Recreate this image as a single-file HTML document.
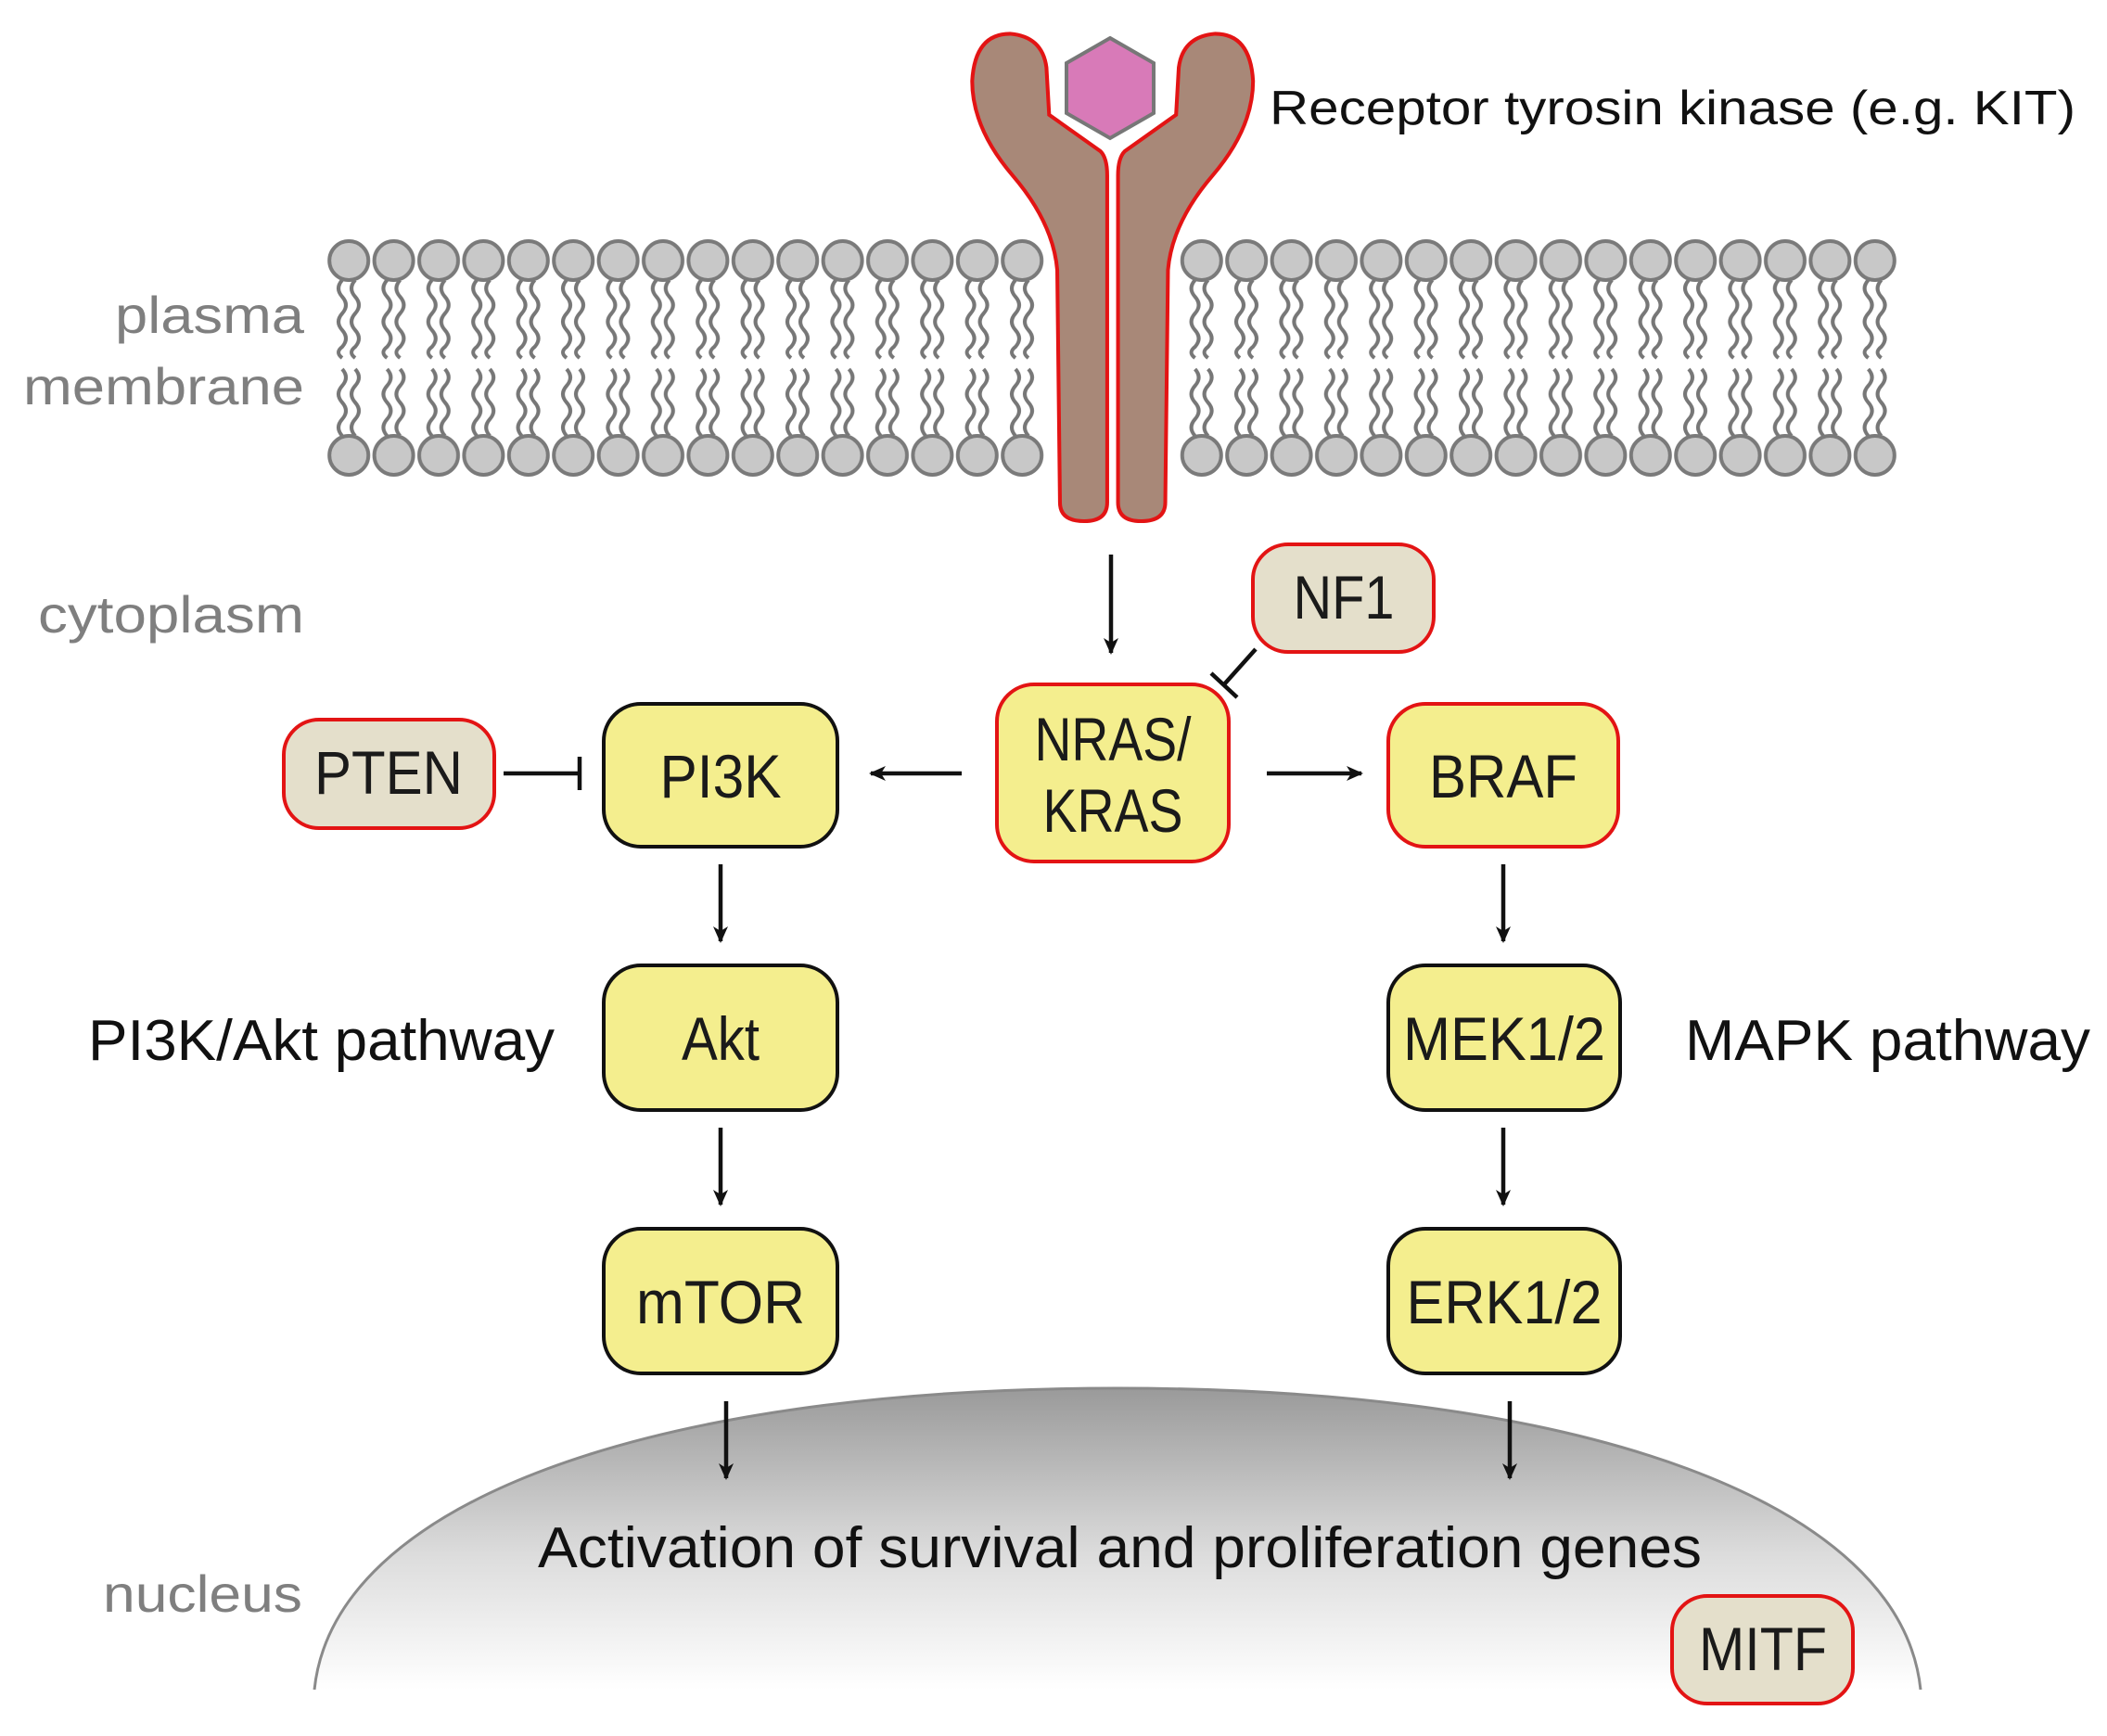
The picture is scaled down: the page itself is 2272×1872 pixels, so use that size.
<!DOCTYPE html>
<html><head><meta charset="utf-8"><style>html,body{margin:0;padding:0;background:#fff}svg{display:block}</style></head>
<body>
<svg width="2272" height="1872" viewBox="0 0 2272 1872" xmlns="http://www.w3.org/2000/svg" font-family="Liberation Sans, sans-serif">
<defs>
<pattern id="lip" patternUnits="userSpaceOnUse" x="352" y="0" width="48.4" height="1872">
  <g stroke="#777" stroke-width="4" fill="none">
    <path d="M17,302 q-8,9 0,18 q8,9 0,18 q-8,9 0,18 q8,9 0,18 q-8,6 0,12"/>
    <path d="M31,302 q-8,9 0,18 q8,9 0,18 q-8,9 0,18 q8,9 0,18 q-8,6 0,12"/>
    <path d="M17,470 q-8,-9 0,-18 q8,-9 0,-18 q-8,-9 0,-18 q8,-9 0,-18"/>
    <path d="M31,470 q-8,-9 0,-18 q8,-9 0,-18 q-8,-9 0,-18 q8,-9 0,-18"/>
  </g>
  <circle cx="24.2" cy="281" r="21" fill="#c8c8c8" stroke="#7a7a7a" stroke-width="4"/>
  <circle cx="24.2" cy="491" r="21" fill="#c8c8c8" stroke="#7a7a7a" stroke-width="4"/>
</pattern>
<linearGradient id="nuc" x1="0" y1="0" x2="0" y2="1">
  <stop offset="0" stop-color="#9a9a9a"/><stop offset="0.55" stop-color="#dcdcdc"/><stop offset="1" stop-color="#ffffff"/>
</linearGradient>
<marker id="ar" markerWidth="18" markerHeight="18" refX="16" refY="9" orient="auto" markerUnits="userSpaceOnUse" viewBox="0 0 18 18">
<path d="M0,1 L18,9 L0,17 L5,9 Z" fill="#111"/></marker>
</defs>
<style>
.n{font-size:66px;fill:#1a1a1a;text-anchor:middle}
.g{font-size:56px;fill:#7f7f7f;text-anchor:end}
.k{font-size:62px;fill:#111}
.a{stroke:#111;stroke-width:4.5;fill:none}
</style>

<!-- membrane -->
<rect x="352" y="255" width="774" height="262" fill="url(#lip)"/>
<rect x="1272" y="255" width="774" height="262" fill="url(#lip)"/>

<!-- receptor -->
<g transform="scale(1.456)" fill="#a88878" stroke="#e31414" stroke-width="2.8">
<path d="M820,130 L820,372 Q820,386 803,386 Q785,386 785,372 L783,200 Q780,165 750,130 Q720,95 720,60 Q722,25 748,25 Q772,27 775,50 L777,85 L815,112 Q820,117 820,130 Z"/>
<path d="M820,130 L820,372 Q820,386 803,386 Q785,386 785,372 L783,200 Q780,165 750,130 Q720,95 720,60 Q722,25 748,25 Q772,27 775,50 L777,85 L815,112 Q820,117 820,130 Z" transform="translate(1648,0) scale(-1,1)"/>
</g>
<polygon points="1197,41 1244,68 1244,122 1197,149 1150,122 1150,68" fill="#d87ab8" stroke="#777" stroke-width="4"/>
<text x="1369" y="134" font-size="52" fill="#111" textLength="869" lengthAdjust="spacingAndGlyphs">Receptor tyrosin kinase (e.g. KIT)</text>

<!-- labels -->
<text class="g" x="328" y="359" textLength="204" lengthAdjust="spacingAndGlyphs">plasma</text>
<text class="g" x="328" y="436" textLength="303" lengthAdjust="spacingAndGlyphs">membrane</text>
<text class="g" x="328" y="682" textLength="287" lengthAdjust="spacingAndGlyphs">cytoplasm</text>
<text class="g" x="326" y="1738" textLength="215" lengthAdjust="spacingAndGlyphs">nucleus</text>
<text class="k" x="95" y="1143" textLength="503" lengthAdjust="spacingAndGlyphs">PI3K/Akt pathway</text>
<text class="k" x="1817" y="1143" textLength="437" lengthAdjust="spacingAndGlyphs">MAPK pathway</text>

<!-- nucleus -->
<path d="M339,1822 C360,1620 700,1497 1205,1497 C1710,1497 2050,1620 2071,1822" fill="url(#nuc)" stroke="#8a8a8a" stroke-width="3"/>
<text class="k" x="580" y="1690" textLength="1255" lengthAdjust="spacingAndGlyphs">Activation of survival and proliferation genes</text>

<!-- nodes -->
<g stroke-width="4">
<rect x="1351" y="587" width="195" height="116" rx="38" fill="#e4dfcb" stroke="#e31414"/>
<rect x="1075" y="738" width="250" height="191" rx="40" fill="#f4ee8e" stroke="#e31414"/>
<rect x="651" y="759" width="252" height="154" rx="40" fill="#f4ee8e" stroke="#111"/>
<rect x="306" y="776" width="227" height="117" rx="38" fill="#e4dfcb" stroke="#e31414"/>
<rect x="1497" y="759" width="248" height="154" rx="40" fill="#f4ee8e" stroke="#e31414"/>
<rect x="651" y="1041" width="252" height="156" rx="40" fill="#f4ee8e" stroke="#111"/>
<rect x="1497" y="1041" width="250" height="156" rx="40" fill="#f4ee8e" stroke="#111"/>
<rect x="651" y="1325" width="252" height="156" rx="40" fill="#f4ee8e" stroke="#111"/>
<rect x="1497" y="1325" width="250" height="156" rx="40" fill="#f4ee8e" stroke="#111"/>
<rect x="1803" y="1721" width="195" height="116" rx="38" fill="#e4dfcb" stroke="#e31414"/>
</g>
<text class="n" x="1449" y="667" textLength="109" lengthAdjust="spacingAndGlyphs">NF1</text>
<text class="n" x="1200" y="820" textLength="169" lengthAdjust="spacingAndGlyphs">NRAS/</text>
<text class="n" x="1200" y="897" textLength="151" lengthAdjust="spacingAndGlyphs">KRAS</text>
<text class="n" x="777" y="860" textLength="131" lengthAdjust="spacingAndGlyphs">PI3K</text>
<text class="n" x="419" y="856" textLength="160" lengthAdjust="spacingAndGlyphs">PTEN</text>
<text class="n" x="1621" y="860" textLength="160" lengthAdjust="spacingAndGlyphs">BRAF</text>
<text class="n" x="777" y="1143" textLength="84" lengthAdjust="spacingAndGlyphs">Akt</text>
<text class="n" x="1622" y="1143" textLength="218" lengthAdjust="spacingAndGlyphs">MEK1/2</text>
<text class="n" x="777" y="1427" textLength="182" lengthAdjust="spacingAndGlyphs">mTOR</text>
<text class="n" x="1622" y="1427" textLength="211" lengthAdjust="spacingAndGlyphs">ERK1/2</text>
<text class="n" x="1901" y="1801" textLength="138" lengthAdjust="spacingAndGlyphs">MITF</text>

<!-- arrows -->
<g class="a">
<line x1="1198" y1="598" x2="1198" y2="704" marker-end="url(#ar)"/>
<line x1="1037" y1="834" x2="939" y2="834" marker-end="url(#ar)"/>
<line x1="1366" y1="834" x2="1468" y2="834" marker-end="url(#ar)"/>
<line x1="777" y1="932" x2="777" y2="1015" marker-end="url(#ar)"/>
<line x1="777" y1="1216" x2="777" y2="1299" marker-end="url(#ar)"/>
<line x1="1621" y1="932" x2="1621" y2="1015" marker-end="url(#ar)"/>
<line x1="1621" y1="1216" x2="1621" y2="1299" marker-end="url(#ar)"/>
<line x1="783" y1="1511" x2="783" y2="1594" marker-end="url(#ar)"/>
<line x1="1628" y1="1511" x2="1628" y2="1594" marker-end="url(#ar)"/>
<line x1="543" y1="834" x2="625" y2="834"/>
<line x1="625" y1="816" x2="625" y2="852"/>
<line x1="1354" y1="700" x2="1320" y2="738"/>
<line x1="1306" y1="726" x2="1334" y2="752"/>
</g>
</svg>
</body></html>
